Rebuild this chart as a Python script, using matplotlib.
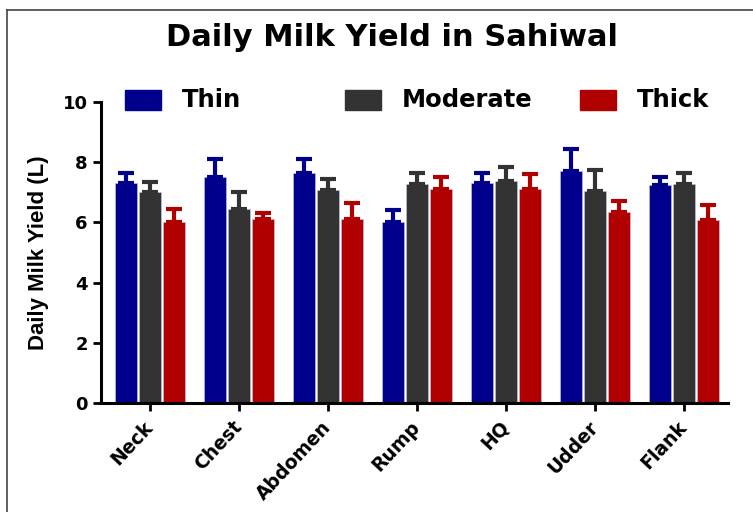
import matplotlib
matplotlib.use("Agg")
import matplotlib.pyplot as plt
import numpy as np
from matplotlib.lines import Line2D
from matplotlib.patches import Rectangle

plt.rcParams['font.family'] = ['DejaVu Sans']

regions = ["Neck", "Chest", "Abdomen", "Rump", "HQ", "Udder", "Flank"]
groups = ["Thin", "Moderate", "Thick"]
thin = [7.3, 7.5, 7.65, 6.0, 7.3, 7.7, 7.25]
moderate = [7.0, 6.45, 7.08, 7.28, 7.37, 7.05, 7.27]
thick = [6.0, 6.1, 6.1, 7.1, 7.1, 6.35, 6.08]
thin_err = [0.35, 0.6, 0.45, 0.4, 0.35, 0.75, 0.25]
moderate_err = [0.35, 0.55, 0.37, 0.37, 0.48, 0.7, 0.38]
thick_err = [0.45, 0.2, 0.55, 0.4, 0.5, 0.35, 0.5]
yticks = [0, 2, 4, 6, 8, 10]

colors = ["#00008c", "#333333", "#b00000"]
series = [thin, moderate, thick]
errors = [thin_err, moderate_err, thick_err]

fig = plt.figure(figsize=(7.53, 5.12), dpi=100)
ax = fig.add_axes([0.134, 0.213, 0.833, 0.588])

x = np.arange(len(regions))
width = 0.25
offsets = [-0.27, 0.0, 0.27]
for vals, errs, col, off, name in zip(series, errors, colors, offsets, groups):
    ax.bar(x + off, vals, width, color=col, edgecolor='#c8c8e8', linewidth=0.4,
           label=name, zorder=2)
    ax.errorbar(x + off, vals, yerr=[np.zeros(len(vals)), errs], fmt='none',
                ecolor=col, elinewidth=3, capsize=6, capthick=3, zorder=3)

ax.set_xlim(-0.55, 6.5)
ax.set_ylim(0, 10)
ax.set_yticks(yticks)
ax.set_yticklabels([str(t) for t in yticks], fontsize=13, fontweight='bold')
ax.set_xticks(x)
ax.set_xticklabels(regions, rotation=47, ha='right', va='center',
                   rotation_mode='anchor', fontsize=13.5, fontweight='bold')
for s in ['top', 'right']:
    ax.spines[s].set_visible(False)
for s in ['left', 'bottom']:
    ax.spines[s].set_linewidth(2.2)
ax.tick_params(axis='both', width=2, length=6, direction='out')
ax.tick_params(axis='x', pad=9)
ax.set_ylabel("Daily Milk Yield (L)", fontsize=16, fontweight='bold', labelpad=10,
              family=['Liberation Sans Narrow', 'Liberation Sans', 'DejaVu Sans'])

fig.text(0.521, 0.927, "Daily Milk Yield in Sahiwal", ha='center', va='center',
         fontsize=22, fontweight='bold')

# legend row above the plot
leg_x = [125, 345, 580]
for lx, col, name in zip(leg_x, colors, groups):
    fig.patches.append(Rectangle((lx / 753, 1 - 110 / 512), 36 / 753, 20 / 512,
                                 transform=fig.transFigure, color=col))
    fig.text((lx + 57) / 753, 1 - 100 / 512, name, ha='left', va='center',
             fontsize=17.5, fontweight='bold')

# outer frame
fig.add_artist(Line2D([7 / 753, 7 / 753], [0, 1 - 10 / 512], transform=fig.transFigure,
                      color='#444444', linewidth=1.2))
fig.add_artist(Line2D([7 / 753, 1], [1 - 10 / 512, 1 - 10 / 512], transform=fig.transFigure,
                      color='#444444', linewidth=1.2))

fig.savefig("out.png", dpi=100)
